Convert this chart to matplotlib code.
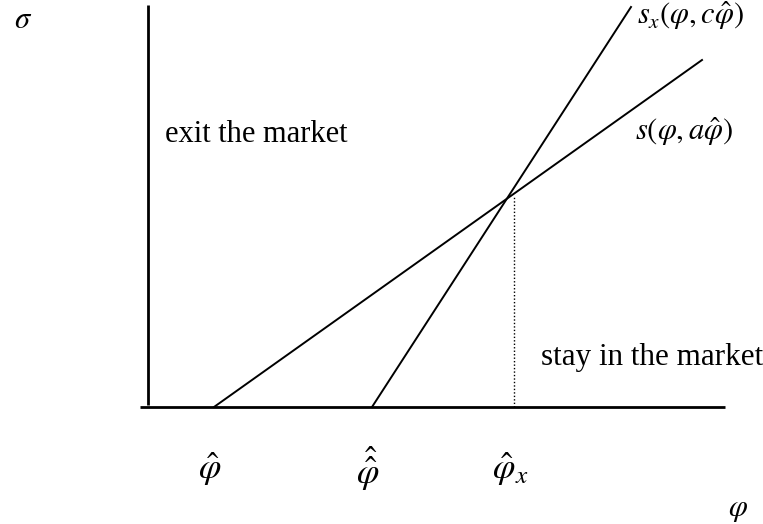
import matplotlib
matplotlib.use("Agg")
import matplotlib.pyplot as plt
import numpy as np

plt.rcParams["mathtext.fontset"] = "stix"
plt.rcParams["font.family"] = ["Liberation Serif", "DejaVu Serif"]

# schematic data (phi, sigma), origin at the axes corner
phi_hat = 66
phi_hathat = 224
phi_x = 366
cross = (360, 210)

# s(phi, a*phi_hat): from phi_hat through the crossing point
s_phi = [phi_hat, 554]
s_sig = [0, 347]
# s_x(phi, c*phi_hat): from phi_hathat through the crossing point
sx_phi = [phi_hathat, 483]
sx_sig = [0, 400]

tick_pos = [phi_hat, phi_hathat, phi_x]
tick_labels = [r"$\hat{\varphi}$", r"$\hat{\hat{\varphi}}$", r"$\hat{\varphi}_x$"]

fig = plt.figure(figsize=(7.63, 5.24), dpi=100)
ax = fig.add_axes([0, 0, 1, 1])
ax.set_xlim(-148, 615)
ax.set_ylim(-117, 407)
ax.axis("off")

# axes
ax.plot([-8, 577], [0, 0], color="black", lw=2.0, solid_capstyle="butt")
ax.plot([0, 0], [2, 402], color="black", lw=2.0, solid_capstyle="butt")

ax.plot(s_phi, s_sig, color="black", lw=1.4)
ax.plot(sx_phi, sx_sig, color="black", lw=1.4)
ax.plot([phi_x, phi_x], [0, cross[1]], color="black", lw=1.0, linestyle=(0, (1, 1.5)))

fs = 22
for p, lab in zip(tick_pos, tick_labels):
    ax.text(p - 4, -62, lab, fontsize=26, ha="center", va="center")

ax.text(-134, 387, r"$\sigma$", fontsize=fs, ha="left", va="center")
ax.text(590, -103, r"$\varphi$", fontsize=fs, ha="center", va="center")
ax.text(489, 391, r"$s_x(\varphi,c\hat{\varphi})$", fontsize=fs, ha="left", va="center")
ax.text(487, 275, r"$s(\varphi,a\hat{\varphi})$", fontsize=fs, ha="left", va="center")
ax.text(17, 273, "exit the market", fontsize=fs, ha="left", va="center")
ax.text(393, 49, "stay in the market", fontsize=22.4, ha="left", va="center")

fig.savefig("out.png", dpi=100)
